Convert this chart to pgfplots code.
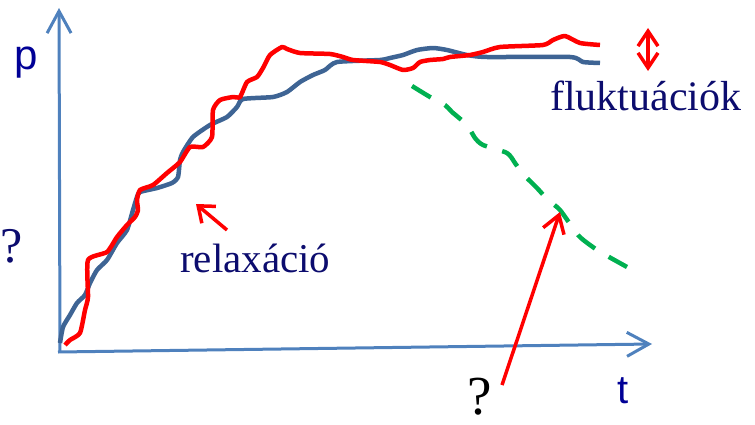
\documentclass[border=0pt]{standalone}
\usepackage{pgfplots}
\pgfplotsset{compat=1.18}
\usepackage{fontspec}
\setmainfont{Liberation Serif}
\newfontfamily\sansf{Liberation Sans}
\usetikzlibrary{arrows.meta}
\definecolor{axblue}{RGB}{79,129,189}
\definecolor{curveblue}{RGB}{62,100,148}
\definecolor{navy}{RGB}{12,12,110}
\definecolor{labblue}{RGB}{0,0,150}
\definecolor{dgreen}{RGB}{0,176,80}
\begin{document}
\begin{tikzpicture}
\path[use as bounding box] (0,0) rectangle (755bp,425bp);
\begin{axis}[
  at={(0,0)}, anchor=south west,
  scale only axis, width=755bp, height=425bp,
  xmin=0, xmax=755, ymin=0, ymax=425, y dir=reverse,
  hide axis, clip=false,
]
% axes
\addplot[axblue, line width=3bp, -{Straight Barb[length=22bp,width=24bp,line width=3bp]}] coordinates {(60,352) (59,8)};
\addplot[axblue, line width=3bp, -{Straight Barb[length=22bp,width=24bp,line width=3bp]}] coordinates {(58,352) (652,344)};
% blue curve
\addplot[curveblue, line width=4.5bp, line join=round, smooth, tension=0.35] coordinates {
(60,343) (63,327) (70,315) (77,303) (85,295) (90,283) (97,270) (107,260) (117,243) (127,230) (133,210) (137,197) (140,192) (157,188) (172,183) (178,177) (180,160) (183,152) (193,137) (210,125) (227,117) (237,107) (243,99) (273,97) (287,92) (300,82) (313,75) (325,70) (337,62) (380,60) (390,58) (403,55) (417,50) (433,48) (447,50) (467,55) (487,57) (570,57) (583,62) (600,63)};
% red curve
\addplot[red, line width=4.5bp, line join=round, smooth, tension=0.35] coordinates {
(65,345) (70,340) (80,333) (85,310) (88,297) (88,260) (107,252) (117,237) (127,225) (135,217) (138,210) (137,200) (140,190) (153,185) (167,173) (180,162) (190,147) (203,147) (212,137) (213,110) (220,100) (233,97) (240,97) (247,82) (257,77) (263,68) (270,55) (282,47) (287,49) (300,53) (330,54) (343,57) (353,60) (380,62) (390,65) (403,70) (413,68) (420,62) (430,60) (443,59) (450,57) (470,55) (483,52) (500,47) (543,45) (553,40) (565,36) (580,43) (600,45)};
% green dashed
\addplot[dgreen, line width=4.5bp, dash pattern=on 22bp off 16bp, smooth, tension=0.4] coordinates {
(412,86) (430,97) (445,105) (452,112) (467,125) (475,138) (483,145) (507,153) (515,163) (522,173) (537,188) (548,200) (560,210) (578,235) (590,245) (602,253) (627,267)};
% red arrows
\addplot[red, line width=3.5bp, -{Straight Barb[length=14bp,width=22bp,line width=3.5bp]}] coordinates {(227,230) (196,204)};
\addplot[red, line width=3.5bp, -{Straight Barb[length=17bp,width=22bp,line width=3.5bp]}] coordinates {(502,385) (560,212)};
\addplot[red, line width=3.5bp, {Straight Barb[length=15bp,width=20bp,line width=3.5bp]}-{Straight Barb[length=15bp,width=20bp,line width=3.5bp]}] coordinates {(648,71) (648,28)};
% texts
\node[anchor=base west, inner sep=0pt, text=labblue] at (axis cs:14,69) {\sansf\fontsize{42bp}{42bp}\selectfont p};
\node[anchor=base west, inner sep=0pt, text=labblue] at (axis cs:617,403) {\sansf\fontsize{40bp}{40bp}\selectfont t};
\node[anchor=base west, inner sep=0pt, text=navy] at (axis cs:180,272) {\fontsize{41bp}{41bp}\selectfont relaxáció};
\node[anchor=base west, inner sep=0pt, text=navy] at (axis cs:550,110) {\fontsize{42bp}{42bp}\selectfont fluktuációk};
\node[anchor=base west, inner sep=0pt, text=navy] at (axis cs:0,262) {\fontsize{50bp}{50bp}\selectfont ?};
\node[anchor=base west, inner sep=0pt, text=black] at (axis cs:467,414) {\fontsize{55bp}{55bp}\selectfont ?};
\end{axis}
\end{tikzpicture}
\end{document}
